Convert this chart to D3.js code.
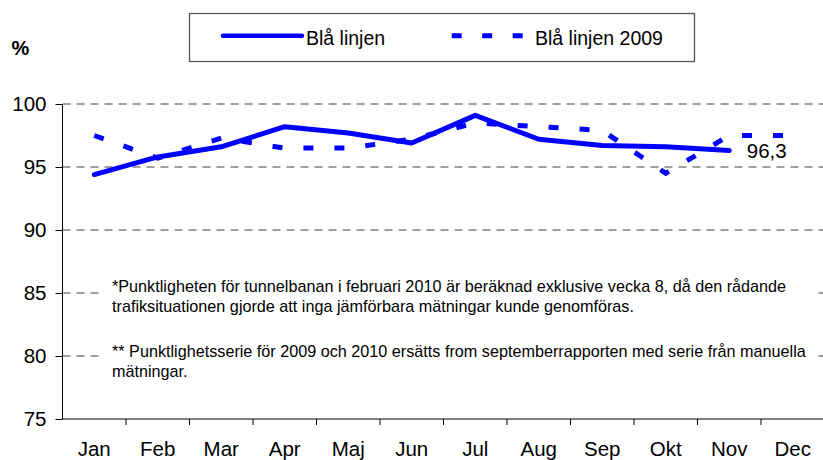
<!DOCTYPE html>
<html><head><meta charset="utf-8">
<script src="https://cdn.jsdelivr.net/npm/d3@7"></script>
<style>body{margin:0;background:#fff}svg{display:block;font-family:"Liberation Sans",Arial,sans-serif}</style>
</head><body><svg id="c" width="823" height="460"></svg>
<script>
const months = ["Jan","Feb","Mar","Apr","Maj","Jun","Jul","Aug","Sep","Okt","Nov","Dec"];
const values2010 = [94.4, 95.8, 96.6, 98.2, 97.7, 96.9, 99.1, 97.2, 96.7, 96.6, 96.3, null];
const values2009 = [97.5, 95.7, 97.3, 96.5, 96.5, 97.2, 98.5, 98.2, 97.9, 94.5, 97.5, 97.5];
const yTicks = [75, 80, 85, 90, 95, 100];
const seriesNames = ["Blå linjen", "Blå linjen 2009"];
const lastLabel = "96,3";
const notes = [
  ["*Punktligheten för tunnelbanan i februari 2010 är beräknad exklusive vecka 8, då den rådande",
   "trafiksituationen gjorde att inga jämförbara mätningar kunde genomföras."],
  ["** Punktlighetsserie för 2009 och 2010 ersätts from septemberrapporten med serie från manuella",
   "mätningar."]
];

(function(){
const svg = d3.select("#c");
const pl = 62.5, pt = 104, pb = 419, bandW = 63.5;
const x = d3.scaleBand().domain(months).range([pl, pl + 12*bandW]);
const y = d3.scaleLinear().domain([75, 100]).range([pb, pt]);
const cx = m => x(m) + x.bandwidth()/2;
const blue = "#0000ff";
const ff = "Liberation Sans, Arial, sans-serif";

// gridlines
svg.append("g").selectAll("line").data(yTicks.filter(v => v > 75)).join("line")
  .attr("x1", pl).attr("x2", 823).attr("y1", d => y(d)).attr("y2", d => y(d))
  .attr("stroke", "#808080").attr("stroke-width", 1.5).attr("stroke-dasharray", "8,6");

// annotation box
svg.append("rect").attr("x", 104).attr("y", 274).attr("width", 712).attr("height", 112).attr("fill", "#fff");
const nt = svg.append("g").attr("font-size", 16.2).attr("fill", "#000");
notes.forEach((lines, i) => {
  lines.forEach((t, j) => {
    nt.append("text").attr("x", 112).attr("y", 292 + i*65 + j*20).text(t);
  });
});

// axes
const yAxis = d3.axisLeft(y).tickValues(yTicks).tickSize(7).tickPadding(9);
const gy = svg.append("g").attr("transform", `translate(${pl},0)`).call(yAxis);
gy.select(".domain").attr("d", `M0,${pt}V${pb}`).attr("stroke", "#000");
gy.selectAll("text").attr("font-size", 20.5).attr("fill", "#000").attr("font-family", ff);
gy.selectAll("line").attr("stroke", "#000");

const xAxis = d3.axisBottom(x).tickSize(0).tickPadding(22);
const gx = svg.append("g").attr("transform", `translate(0,${pb})`).call(xAxis);
gx.select(".domain").attr("d", `M${pl},0H823`).attr("stroke", "#000");
gx.selectAll("text").attr("font-size", 20.5).attr("fill", "#000").attr("font-family", ff);
gx.append("g").selectAll("line").data(months.slice(1)).join("line")
  .attr("x1", d => x(d)).attr("x2", d => x(d)).attr("y1", 0).attr("y2", 6).attr("stroke", "#000");

// lines
const line = d3.line().defined(d => d[1] != null).x(d => cx(d[0])).y(d => y(d[1]));
svg.append("path").datum(months.map((m, i) => [m, values2009[i]]))
  .attr("d", line).attr("fill", "none").attr("stroke", blue).attr("stroke-width", 5)
  .attr("stroke-dasharray", "10,21");
svg.append("path").datum(months.map((m, i) => [m, values2010[i]]))
  .attr("d", line).attr("fill", "none").attr("stroke", blue).attr("stroke-width", 5)
  .attr("stroke-linejoin", "round").attr("stroke-linecap", "round");

// last label
svg.append("text").attr("x", cx("Nov") + 17.5).attr("y", y(values2010[10]) + 7)
  .attr("font-size", 20.5).text(lastLabel);

// % label
svg.append("text").attr("x", 11.5).attr("y", 55).attr("font-size", 20).attr("font-weight", "bold").text("%");

// legend
const lg = svg.append("g");
lg.append("rect").attr("x", 189.5).attr("y", 13.5).attr("width", 505).attr("height", 48)
  .attr("fill", "#fff").attr("stroke", "#555").attr("stroke-width", 1.3);
lg.append("line").attr("x1", 223).attr("x2", 302).attr("y1", 35.7).attr("y2", 35.7)
  .attr("stroke", blue).attr("stroke-width", 4.5).attr("stroke-linecap", "round");
lg.append("text").attr("x", 306).attr("y", 45).attr("font-size", 19.5).text(seriesNames[0]);
lg.append("line").attr("x1", 451.7).attr("x2", 523).attr("y1", 35.7).attr("y2", 35.7)
  .attr("stroke", blue).attr("stroke-width", 5).attr("stroke-dasharray", "10,20.5");
lg.append("text").attr("x", 535).attr("y", 45).attr("font-size", 19.5).text(seriesNames[1]);
})();
</script></body></html>
